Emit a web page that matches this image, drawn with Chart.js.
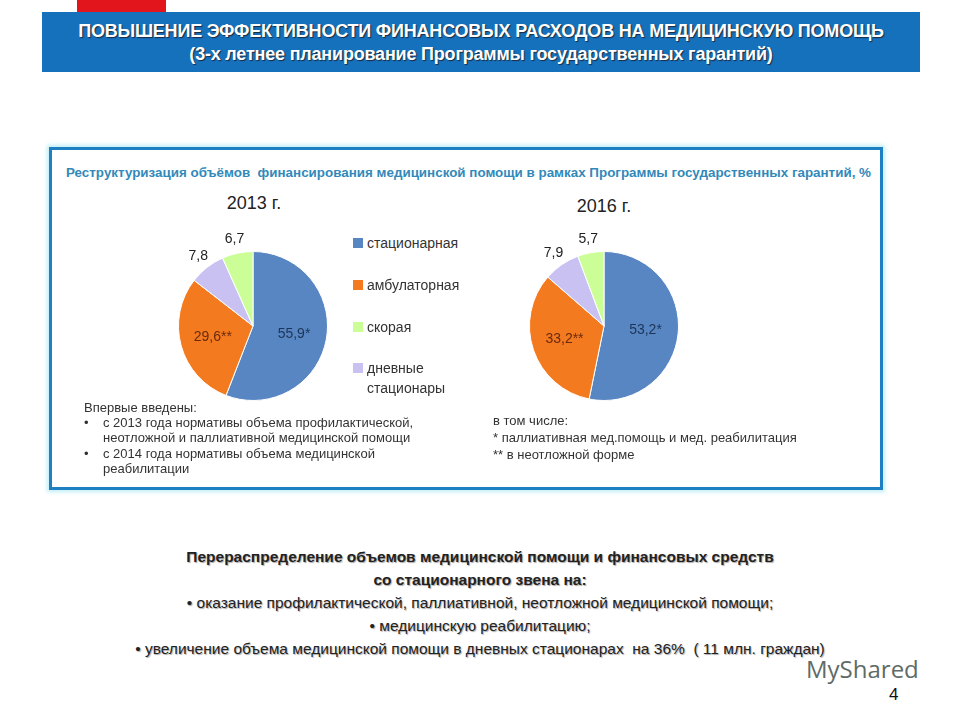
<!DOCTYPE html>
<html lang="ru">
<head>
<meta charset="UTF-8">
<title>Повышение эффективности финансовых расходов</title>
<script src="https://cdn.jsdelivr.net/npm/chart.js"></script>
<style>
  body { margin: 0; width: 960px; height: 720px; background: #fff; position: relative; overflow: hidden; font-family: "Liberation Sans", Arial, sans-serif; }
  .abs { position: absolute; }
  .narrow { font-family: "Liberation Sans Narrow", "Arial Narrow", "Liberation Sans", sans-serif; }
  #redbar { left: 77px; top: 0; width: 89px; height: 12px; background: #e3151c; }
  #header { left: 42px; top: 12px; width: 878px; height: 60px; background: #1671bd; color: #fff; text-align: center; font-weight: bold; font-size: 18px; line-height: 23px; text-shadow: 1px 1px 1px #1c2a40; padding-top: 8px; box-sizing: border-box; letter-spacing: -0.2px; }
  #box { left: 49px; top: 147px; width: 834px; height: 343px; border: 3px solid #1f7fc3; box-sizing: border-box; box-shadow: 0 0 4px 2px #bfeef5; }
  #boxtitle { left: 66px; top: 165px; color: #3289b9; font-weight: bold; font-size: 13.4px; white-space: nowrap; }
  .year { font-size: 18px; color: #222; width: 120px; text-align: center; }
  .leg { font-size: 14px; color: #333; line-height: 20px; }
  .leg span.sq { position: absolute; left: -14px; top: 5px; width: 10px; height: 10px; }
  .note { font-size: 13px; color: #333; line-height: 15px; }
  #bottom { left: 0; top: 545px; width: 960px; text-align: center; font-size: 15.5px; line-height: 23px; color: #222; text-shadow: 1px 1px 1px #aaa; }
</style>
</head>
<body>
<div id="redbar" class="abs"></div>
<div id="header" class="abs narrow">ПОВЫШЕНИЕ ЭФФЕКТИВНОСТИ ФИНАНСОВЫХ РАСХОДОВ НА МЕДИЦИНСКУЮ ПОМОЩЬ<br>(3-х летнее планирование Программы государственных гарантий)</div>

<div id="box" class="abs"></div>
<div id="boxtitle" class="abs narrow">Реструктуризация объёмов&nbsp; финансирования медицинской помощи в рамках Программы государственных гарантий, %</div>

<div class="abs year" style="left:194px; top:193px;">2013 г.</div>
<div class="abs year" style="left:544px; top:196px;">2016 г.</div>

<canvas id="pie2013" class="abs" width="220" height="220" style="left:143px; top:216px;"></canvas>
<canvas id="pie2016" class="abs" width="220" height="220" style="left:494px; top:216px;"></canvas>

<div id="legend"></div>

<div class="abs note" style="left:84px; top:400px;">Впервые введены:</div>
<div class="abs note" style="left:84px; top:415px;">•</div>
<div class="abs note" style="left:103px; top:415px;">с 2013 года нормативы объема профилактической,<br>неотложной и паллиативной медицинской помощи</div>
<div class="abs note" style="left:84px; top:446px;">•</div>
<div class="abs note" style="left:103px; top:446px;">с 2014 года нормативы объема медицинской<br>реабилитации</div>

<div class="abs note" style="left:493px; top:412px; line-height:17px;">в том числе:<br>* паллиативная мед.помощь и мед. реабилитация<br>** в неотложной форме</div>

<div id="bottom" class="abs narrow">
  <b>Перераспределение объемов медицинской помощи и финансовых средств</b><br>
  <b>со стационарного звена на:</b><br>
  • оказание профилактической, паллиативной, неотложной медицинской помощи;<br>
  • медицинскую реабилитацию;<br>
  • увеличение объема медицинской помощи в дневных стационарах&nbsp; на 36%&nbsp; ( 11 млн. граждан)
</div>

<div class="abs" style="left:806px; top:655px; font-size:24px; line-height:28px; color:#5f6b66; font-family:'Open Sans', sans-serif;">MyShared</div>
<div class="abs" style="left:889px; top:686px; font-size:17px; line-height:18px; color:#111;">4</div>

<script>
// slice order as drawn clockwise from 12 o'clock
const categories = ['стационарная', 'амбулаторная', 'дневные стационары', 'скорая'];
const values2013 = [55.9, 29.6, 7.8, 6.7];
const values2016 = [53.2, 33.2, 7.9, 5.7];
const labelSuffix = ['*', '**', '', ''];
const sliceColors = ['#5886c2', '#f47a1f', '#c9c1f2', '#ccfe98'];
const labelColors = ['#1d3558', '#6a2a0e', '#222', '#222'];
// legend shows categories in this order
const legendOrder = [0, 1, 3, 2];
const legendTops = [233, 275, 317, 358];

// html legend between the pies
const legend = document.getElementById('legend');
legendOrder.forEach((idx, i) => {
  const d = document.createElement('div');
  d.className = 'abs leg';
  d.style.left = '367px';
  d.style.top = legendTops[i] + 'px';
  d.innerHTML = '<span class="sq" style="background:' + sliceColors[idx] + '"></span>' +
    categories[idx].replace(' ', '<br>');
  legend.appendChild(d);
});

const sliceLabels = {
  id: 'sliceLabels',
  afterDatasetsDraw(chart) {
    const ctx = chart.ctx;
    const data = chart.data.datasets[0].data;
    chart.getDatasetMeta(0).data.forEach((arc, i) => {
      const p = arc.getProps(['x', 'y', 'startAngle', 'endAngle', 'outerRadius'], true);
      const mid = (p.startAngle + p.endAngle) / 2;
      const r = data[i] > 20 ? p.outerRadius * 0.56 : p.outerRadius + 14;
      const tx = p.x + Math.cos(mid) * r;
      const ty = p.y + Math.sin(mid) * r;
      ctx.save();
      ctx.font = '14px "Liberation Sans", Arial, sans-serif';
      ctx.fillStyle = labelColors[i];
      ctx.textAlign = 'center';
      ctx.textBaseline = 'middle';
      ctx.fillText(data[i].toFixed(1).replace('.', ',') + labelSuffix[i], tx, ty);
      ctx.restore();
    });
  }
};

function makePie(id, values) {
  new Chart(document.getElementById(id), {
    type: 'pie',
    data: {
      labels: categories,
      datasets: [{ data: values, backgroundColor: sliceColors, borderColor: '#fff', borderWidth: 1 }]
    },
    options: {
      responsive: false,
      animation: false,
      layout: { padding: 35 },
      plugins: { legend: { display: false }, tooltip: { enabled: false } }
    },
    plugins: [sliceLabels]
  });
}

makePie('pie2013', values2013);
makePie('pie2016', values2016);
</script>
</body>
</html>
